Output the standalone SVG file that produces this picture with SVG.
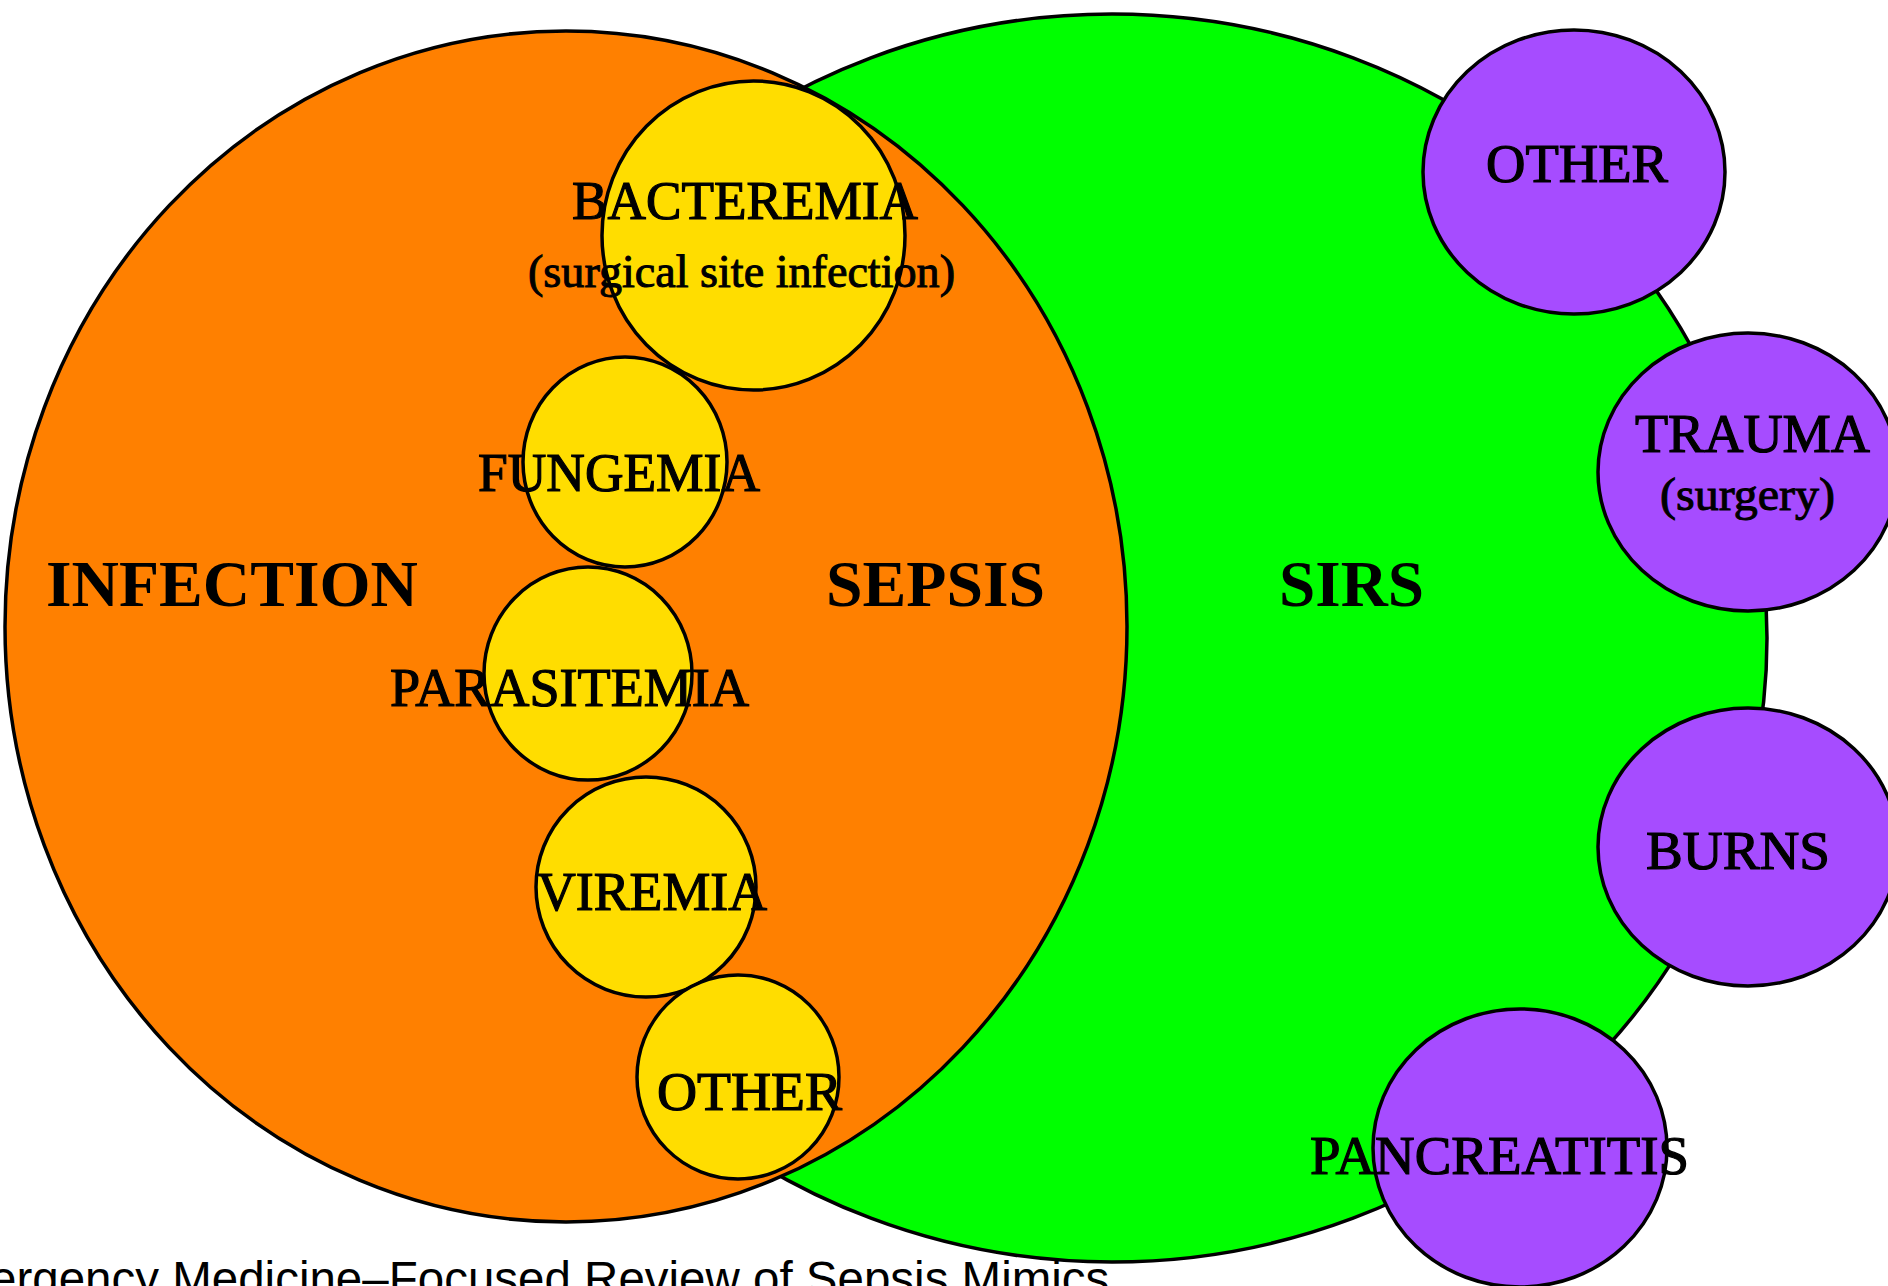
<svg xmlns="http://www.w3.org/2000/svg" width="1888" height="1286" viewBox="0 0 1888 1286">
  <style>
    .ring { stroke: #000; stroke-width: 3.5; }
    .sirs { fill: #00FF00; }
    .infection { fill: #FF8000; }
    .microbe { fill: #FFDD00; }
    .cause { fill: #A64CFF; }
    .big { font-family: "Liberation Serif", "Times New Roman", serif; font-size: 66px; font-weight: bold; fill: #000; text-anchor: middle; }
    .lbl { font-family: "Liberation Serif", "Times New Roman", serif; font-size: 54px; fill: #000; stroke: #000; stroke-width: 1.2; text-anchor: middle; }
    .sub { font-family: "Liberation Serif", "Times New Roman", serif; font-size: 46px; fill: #000; stroke: #000; stroke-width: 1; text-anchor: middle; }
    .caption { font-family: "Liberation Sans", Arial, sans-serif; font-size: 47.5px; fill: #000; }
  </style>

  <rect width="1888" height="1286" fill="#FFFFFF"/>

  <!-- SIRS field -->
  <g id="sirs">
    <ellipse class="ring sirs" cx="1112" cy="638" rx="655" ry="624"/>
  </g>

  <!-- Infection field, overlapping SIRS (overlap = sepsis) -->
  <g id="infection">
    <ellipse class="ring infection" cx="566" cy="626.5" rx="561" ry="595.5"/>
  </g>

  <!-- Microbial invasion states -->
  <g id="bacteremia">
    <ellipse class="ring microbe" cx="753.5" cy="235.5" rx="151.5" ry="154.5"/>
  </g>
  <g id="fungemia">
    <ellipse class="ring microbe" cx="625" cy="462" rx="102" ry="105"/>
  </g>
  <g id="parasitemia">
    <ellipse class="ring microbe" cx="588" cy="673.5" rx="104" ry="106.5"/>
  </g>
  <g id="viremia">
    <ellipse class="ring microbe" cx="646" cy="887" rx="110" ry="110"/>
  </g>
  <g id="other-infection">
    <ellipse class="ring microbe" cx="738" cy="1077" rx="101" ry="102"/>
  </g>

  <!-- Non-infectious SIRS causes -->
  <g id="other-sirs">
    <ellipse class="ring cause" cx="1574" cy="172" rx="151" ry="142"/>
  </g>
  <g id="trauma">
    <ellipse class="ring cause" cx="1748" cy="472" rx="150" ry="139"/>
  </g>
  <g id="burns">
    <ellipse class="ring cause" cx="1748" cy="847" rx="150" ry="139"/>
  </g>
  <g id="pancreatitis">
    <ellipse class="ring cause" cx="1520" cy="1148" rx="147" ry="139"/>
  </g>

  <!-- Labels -->
  <g id="labels">
    <text class="big" x="232" y="606" textLength="372" lengthAdjust="spacingAndGlyphs">INFECTION</text>
    <text class="big" x="935.5" y="606" textLength="219" lengthAdjust="spacingAndGlyphs">SEPSIS</text>
    <text class="big" x="1351.5" y="606" textLength="145" lengthAdjust="spacingAndGlyphs">SIRS</text>

    <text class="lbl" x="745" y="219" textLength="346" lengthAdjust="spacingAndGlyphs">BACTEREMIA</text>
    <text class="sub" x="741.5" y="287" textLength="427" lengthAdjust="spacingAndGlyphs">(surgical site infection)</text>
    <text class="lbl" x="619" y="491" textLength="282" lengthAdjust="spacingAndGlyphs">FUNGEMIA</text>
    <text class="lbl" x="569.5" y="706" textLength="359" lengthAdjust="spacingAndGlyphs">PARASITEMIA</text>
    <text class="lbl" x="652" y="910" textLength="230" lengthAdjust="spacingAndGlyphs">VIREMIA</text>
    <text class="lbl" x="749.5" y="1110" textLength="185" lengthAdjust="spacingAndGlyphs">OTHER</text>

    <text class="lbl" x="1577" y="182" textLength="182" lengthAdjust="spacingAndGlyphs">OTHER</text>
    <text class="lbl" x="1752.5" y="452" textLength="235" lengthAdjust="spacingAndGlyphs">TRAUMA</text>
    <text class="sub" x="1747.5" y="510" textLength="175" lengthAdjust="spacingAndGlyphs">(surgery)</text>
    <text class="lbl" x="1738" y="869" textLength="184" lengthAdjust="spacingAndGlyphs">BURNS</text>
    <text class="lbl" x="1499.5" y="1174" textLength="379" lengthAdjust="spacingAndGlyphs">PANCREATITIS</text>
  </g>

  <!-- Source caption, cut at the left edge -->
  <text class="caption" x="-10" y="1295">ergency Medicine–Focused Review of Sepsis Mimics</text>
</svg>
